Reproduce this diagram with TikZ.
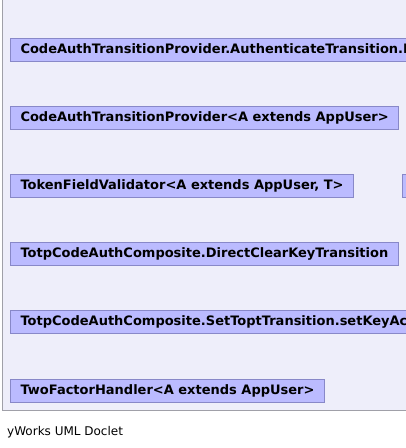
\documentclass[tikz,border=0pt]{standalone}
\usepackage{fontspec}
\setmainfont{DejaVu Sans}
\usepackage{tikz}

\definecolor{panelbg}{HTML}{EEEEFA}
\definecolor{panelline}{HTML}{A0A0A8}
\definecolor{classfill}{HTML}{BBBBFF}
\definecolor{classline}{HTML}{8888C8}

\tikzset{
  classbox/.style={draw=classline,fill=classfill,line width=1pt,anchor=west,
    minimum height=23pt,inner xsep=10pt,inner ysep=0pt,
    font=\fontsize{13}{15}\selectfont\bfseries},
}

\begin{document}
\begin{tikzpicture}[x=1pt,y=-1pt]
  \useasboundingbox (0,0) rectangle (406,448);
  \clip (0,0) rectangle (406,448);
  %\draw[very thin,lightgray] (0,0) grid[step=50] (406,448);
  \fill[panelbg] (2.5,-5) rectangle (420,410);
  \draw[panelline] (2.5,-5) -- (2.5,410) -- (420,410);
  \node[classbox] (authtrans) at (10,49.5)
    {CodeAuthTransitionProvider.AuthenticateTransition.Impl};
  \node[classbox] (authprov) at (10,117.5)
    {CodeAuthTransitionProvider<A extends AppUser>};
  \node[classbox] (tokenval) at (10,185.5)
    {TokenFieldValidator<A extends AppUser, T>};
  \node[classbox,minimum width=60pt] (nextbox) at (402,185.5) {};
  \node[classbox] (clearkey) at (10,253.5)
    {TotpCodeAuthComposite.DirectClearKeyTransition};
  \node[classbox] (setkey) at (10,322)
    {TotpCodeAuthComposite.SetToptTransition.setKeyAction};
  \node[classbox] (twofactor) at (10,390.5)
    {TwoFactorHandler<A extends AppUser>};
  \node[anchor=west,inner sep=0pt,font=\fontsize{12}{14}\selectfont] (doclet)
    at (7,432) {yWorks UML Doclet};
\end{tikzpicture}
\end{document}
